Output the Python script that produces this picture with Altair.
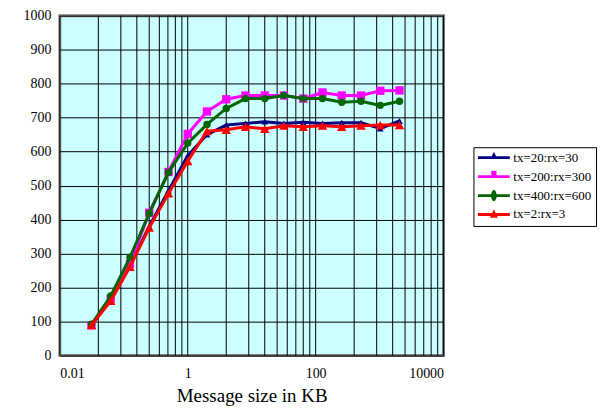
import altair as alt
import pandas as pd

sizes = [0.03125, 0.0625, 0.125, 0.25, 0.5, 1, 2, 4, 8, 16, 32, 64, 128, 256, 512, 1024, 2048]
names = ["tx=20:rx=30", "tx=200:rx=300", "tx=400:rx=600", "tx=2:rx=3"]
blue = [90, 165, 265, 380, 485, 588, 650, 678, 683, 688, 683, 686, 683, 685, 685, 668, 690]
magenta = [89, 167, 270, 420, 540, 652, 718, 754, 765, 765, 765, 756, 774, 765, 765, 779, 780]
green = [92, 175, 289, 418, 539, 625, 680, 727, 756, 756, 765, 756, 756, 745, 748, 736, 748]
red = [89, 161, 261, 376, 477, 572, 660, 664, 673, 667, 676, 673, 676, 673, 676, 678, 678]
colors = ["#000080", "#FF00FF", "#006600", "#FF0000"]
shapes = ["triangle-up", "square", "circle", "triangle-up"]
msizes = [45, 70, 55, 90]
x_labels = [0.01, 1, 100, 10000]
y_ticks = [0, 100, 200, 300, 400, 500, 600, 700, 800, 900, 1000]
# log-100 axis: minor gridlines at m^2 within each 100x interval
grid_x = [b * m * m for b in (0.01, 1, 100) for m in range(1, 10)] + [10000]

rows = []
for name, vals in zip(names, [blue, magenta, green, red]):
    for s, v in zip(sizes, vals):
        rows.append({"size": s, "thr": v, "series": name})
df = pd.DataFrame(rows)

FONT = "Liberation Serif"
xscale = alt.Scale(type="log", domain=[0.01, 10000], nice=False)
yscale = alt.Scale(domain=[0, 1000], nice=False)

xax = alt.Axis(values=x_labels, format="~g", grid=False, ticks=False, domain=False,
               labelFont=FONT, labelFontSize=14, labelColor="black", labelPadding=11,
               title="Message size in KB", titleFont=FONT, titleFontSize=19,
               titleFontWeight="normal", titleColor="black", titlePadding=6)
yax = alt.Axis(values=y_ticks, format="d", grid=True, gridColor="black", gridOpacity=1, gridWidth=1,
               ticks=False, domain=False, labelFont=FONT, labelFontSize=14,
               labelColor="black", labelPadding=9, title=None)

base = alt.Chart(df)

grid = alt.Chart(pd.DataFrame({"g": grid_x})).mark_rule(color="black", strokeWidth=1).encode(
    x=alt.X("g:Q", scale=xscale, axis=xax)
)

layers = [grid]
for name, col, shp, ms in zip(names, colors, shapes, msizes):
    sub = base.transform_filter(alt.datum.series == name)
    layers.append(sub.mark_line(color=col, strokeWidth=3).encode(
        x=alt.X("size:Q", scale=xscale, axis=xax),
        y=alt.Y("thr:Q", scale=yscale, axis=yax)))
    layers.append(sub.mark_point(color=col, shape=shp, size=ms, filled=True, opacity=1).encode(
        x=alt.X("size:Q", scale=xscale, axis=xax),
        y=alt.Y("thr:Q", scale=yscale, axis=yax)))

line_p = "M-4,-0.35 H4 V0.35 H-4 Z "
leg_shapes = [
    line_p + "M-0.75,0 L0,-1.4 L0.75,0 Z",
    line_p + "M-0.65,-1.5 H0.65 V0.3 H-0.65 Z",
    line_p + "M0,-1.4 A0.7,1.4 0 1,1 0,1.4 A0.7,1.4 0 1,1 0,-1.4 Z",
    line_p + "M-1,0.8 L0,-1.3 L1,0.8 Z",
]
leg = alt.Legend(orient="none", legendX=415, legendY=132, title=None,
                 strokeColor="black", fillColor="white", padding=4,
                 labelFont=FONT, labelFontSize=13, labelColor="black",
                 symbolSize=64, symbolOffset=10, labelOffset=13, rowPadding=5,
                 symbolOpacity=1, symbolStrokeWidth=0)
legend_layer = base.mark_point(filled=True, opacity=0).encode(
    x=alt.X("size:Q", scale=xscale, axis=xax),
    y=alt.Y("thr:Q", scale=yscale, axis=yax),
    color=alt.Color("series:N", scale=alt.Scale(domain=names, range=colors), legend=leg),
    shape=alt.Shape("series:N", scale=alt.Scale(domain=names, range=leg_shapes), legend=leg),
)
layers.append(legend_layer)

chart = alt.layer(*layers).properties(
    width=385, height=341,
    autosize=alt.AutoSizeParams(type="none"),
    padding={"left": 52, "top": 7, "right": 165, "bottom": 56},
).configure_view(
    fill="#CCFFFF", stroke="#808080", strokeWidth=3
)

chart.save("out.html", embed_options={"renderer": "svg", "actions": False})
